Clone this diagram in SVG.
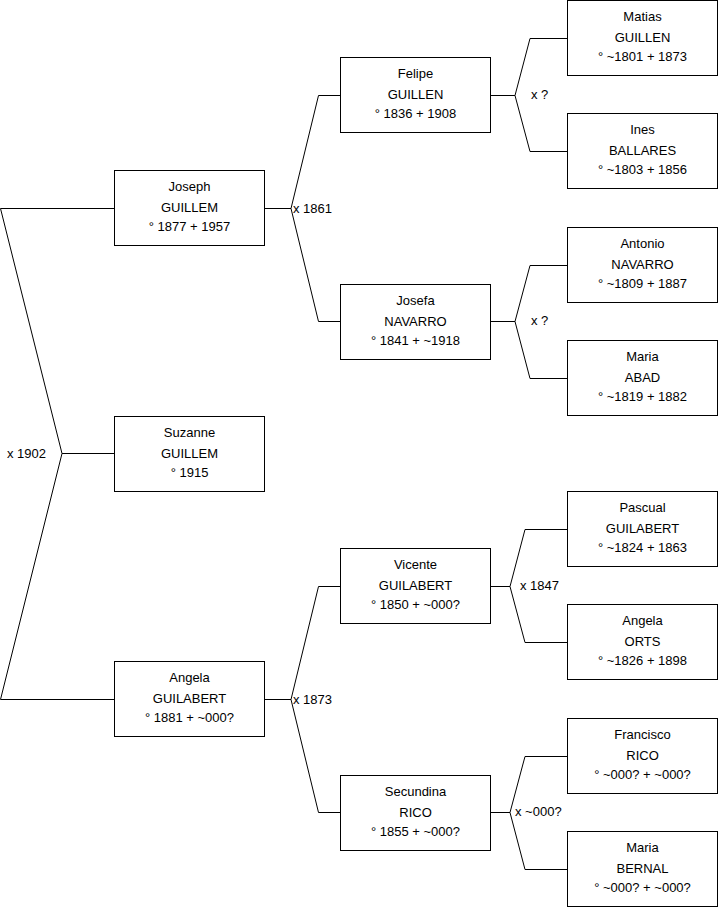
<svg xmlns="http://www.w3.org/2000/svg" width="719" height="908" viewBox="0 0 719 908">
<style>
.b{fill:#fff;stroke:#000;stroke-width:1}
.t{font-family:"Liberation Sans",Arial,sans-serif;font-size:13px;fill:#000;text-anchor:middle}
.l{font-family:"Liberation Sans",Arial,sans-serif;font-size:13px;fill:#000}
.c{fill:none;stroke:#000;stroke-width:1}
</style>
<rect width="719" height="908" fill="#fff"/>
<g id="connectors">
<path class="c" d="M114,208.5H0.5L62,453.5L0.5,699.5H114M62,453.5H114"/>
<path class="c" d="M265,208.5H291L318.5,95.5H340M291,208.5L318.5,321.5H340"/>
<path class="c" d="M265,699.5H291L318.5,586.5H340M291,699.5L318.5,812.5H340"/>
<path class="c" d="M491,95.5H515L530,38.5H567M515,95.5L530,151.5H567"/>
<path class="c" d="M491,321.5H515L530,265.5H567M515,321.5L530,378.5H567"/>
<path class="c" d="M491,586.5H510L525,529.5H567M510,586.5L525,642.5H567"/>
<path class="c" d="M491,812.5H510L525,756.5H567M510,812.5L525,869.5H567"/>
<text class="l" x="7" y="457.5">x 1902</text>
<text class="l" x="293" y="212.5">x 1861</text>
<text class="l" x="293" y="703.5">x 1873</text>
<text class="l" x="531" y="98.5">x ?</text>
<text class="l" x="531" y="324.5">x ?</text>
<text class="l" x="520" y="589.5">x 1847</text>
<text class="l" x="515" y="815.5">x ~000?</text>
</g>
<g id="joseph"><rect class="b" x="114.5" y="170.5" width="150" height="75"/><text class="t" x="189.5" y="191">Joseph</text><text class="t" x="189.5" y="211.5">GUILLEM</text><text class="t" x="189.5" y="231">° 1877 + 1957</text></g>
<g id="suzanne"><rect class="b" x="114.5" y="416.5" width="150" height="75"/><text class="t" x="189.5" y="437">Suzanne</text><text class="t" x="189.5" y="457.5">GUILLEM</text><text class="t" x="189.5" y="477">° 1915</text></g>
<g id="angela"><rect class="b" x="114.5" y="661.5" width="150" height="75"/><text class="t" x="189.5" y="682">Angela</text><text class="t" x="189.5" y="702.5">GUILABERT</text><text class="t" x="189.5" y="722">° 1881 + ~000?</text></g>
<g id="felipe"><rect class="b" x="340.5" y="57.5" width="150" height="75"/><text class="t" x="415.5" y="78">Felipe</text><text class="t" x="415.5" y="98.5">GUILLEN</text><text class="t" x="415.5" y="118">° 1836 + 1908</text></g>
<g id="josefa"><rect class="b" x="340.5" y="284.5" width="150" height="75"/><text class="t" x="415.5" y="305">Josefa</text><text class="t" x="415.5" y="325.5">NAVARRO</text><text class="t" x="415.5" y="345">° 1841 + ~1918</text></g>
<g id="vicente"><rect class="b" x="340.5" y="548.5" width="150" height="75"/><text class="t" x="415.5" y="569">Vicente</text><text class="t" x="415.5" y="589.5">GUILABERT</text><text class="t" x="415.5" y="609">° 1850 + ~000?</text></g>
<g id="secundina"><rect class="b" x="340.5" y="775.5" width="150" height="75"/><text class="t" x="415.5" y="796">Secundina</text><text class="t" x="415.5" y="816.5">RICO</text><text class="t" x="415.5" y="836">° 1855 + ~000?</text></g>
<g id="matias"><rect class="b" x="567.5" y="0.5" width="150" height="75"/><text class="t" x="642.5" y="21">Matias</text><text class="t" x="642.5" y="41.5">GUILLEN</text><text class="t" x="642.5" y="61">° ~1801 + 1873</text></g>
<g id="ines"><rect class="b" x="567.5" y="113.5" width="150" height="75"/><text class="t" x="642.5" y="134">Ines</text><text class="t" x="642.5" y="154.5">BALLARES</text><text class="t" x="642.5" y="174">° ~1803 + 1856</text></g>
<g id="antonio"><rect class="b" x="567.5" y="227.5" width="150" height="75"/><text class="t" x="642.5" y="248">Antonio</text><text class="t" x="642.5" y="268.5">NAVARRO</text><text class="t" x="642.5" y="288">° ~1809 + 1887</text></g>
<g id="maria-abad"><rect class="b" x="567.5" y="340.5" width="150" height="75"/><text class="t" x="642.5" y="361">Maria</text><text class="t" x="642.5" y="381.5">ABAD</text><text class="t" x="642.5" y="401">° ~1819 + 1882</text></g>
<g id="pascual"><rect class="b" x="567.5" y="491.5" width="150" height="75"/><text class="t" x="642.5" y="512">Pascual</text><text class="t" x="642.5" y="532.5">GUILABERT</text><text class="t" x="642.5" y="552">° ~1824 + 1863</text></g>
<g id="angela-orts"><rect class="b" x="567.5" y="604.5" width="150" height="75"/><text class="t" x="642.5" y="625">Angela</text><text class="t" x="642.5" y="645.5">ORTS</text><text class="t" x="642.5" y="665">° ~1826 + 1898</text></g>
<g id="francisco"><rect class="b" x="567.5" y="718.5" width="150" height="75"/><text class="t" x="642.5" y="739">Francisco</text><text class="t" x="642.5" y="759.5">RICO</text><text class="t" x="642.5" y="779">° ~000? + ~000?</text></g>
<g id="maria-bernal"><rect class="b" x="567.5" y="831.5" width="150" height="75"/><text class="t" x="642.5" y="852">Maria</text><text class="t" x="642.5" y="872.5">BERNAL</text><text class="t" x="642.5" y="892">° ~000? + ~000?</text></g>
</svg>
